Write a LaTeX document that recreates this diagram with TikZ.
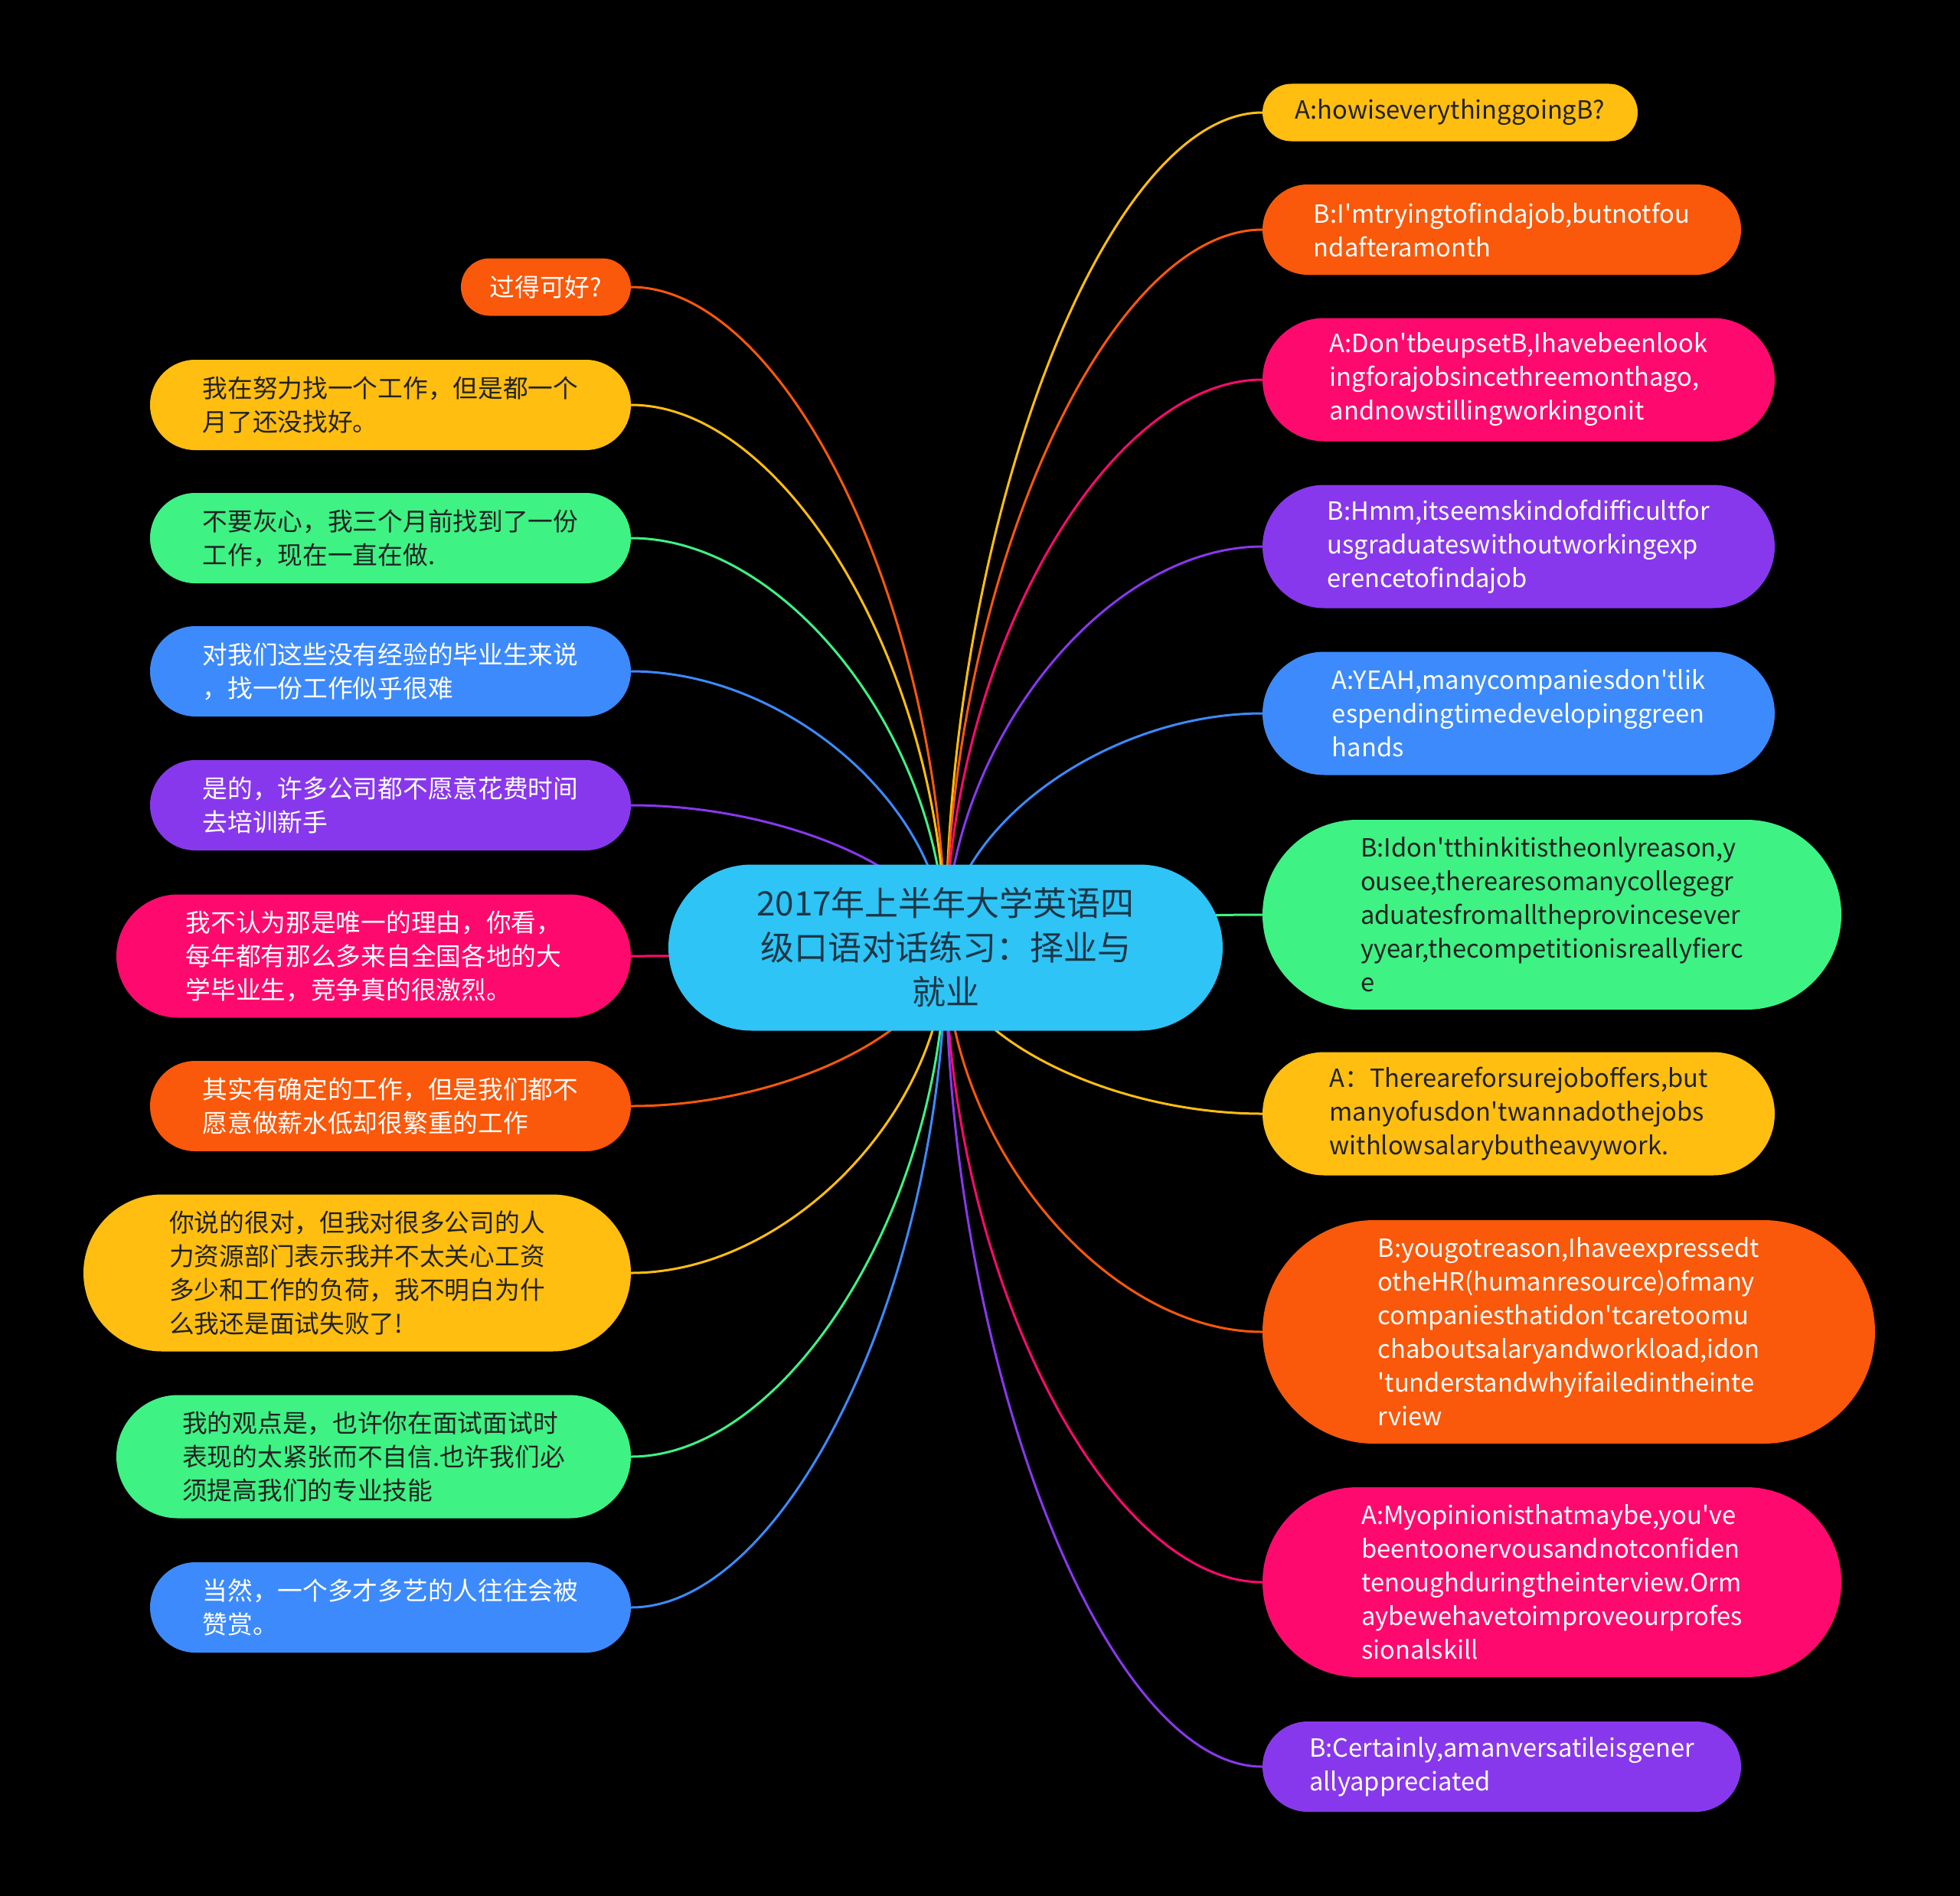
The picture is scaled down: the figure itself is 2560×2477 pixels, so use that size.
\documentclass[tikz,border=0pt]{standalone}
\usepackage{fontspec}
\setmainfont{Noto Sans CJK SC}
\usetikzlibrary{calc}
\definecolor{cY}{HTML}{FFBE10}
\definecolor{cO}{HTML}{FA580A}
\definecolor{cP}{HTML}{FE0A6E}
\definecolor{cV}{HTML}{8838EC}
\definecolor{cB}{HTML}{3D8AFC}
\definecolor{cG}{HTML}{3EF284}
\definecolor{cC}{HTML}{2EC4F6}
\definecolor{dk}{HTML}{222222}
\definecolor{ctxt}{HTML}{1C3646}
\pgfdeclarelayer{bg}\pgfdeclarelayer{lines}\pgfsetlayers{bg,lines,main}
\newcommand\aq{\textquotesingle}
\tikzset{
  pill/.style={inner sep=0pt, align=left, font=\fontsize{32.7bp}{44bp}\selectfont},
  conn/.style={line width=3bp},
  h1/.style={minimum height=75bp, rounded corners=37.5bp},
  h2/.style={minimum height=118bp, rounded corners=59bp},
  h3/.style={minimum height=161bp, rounded corners=80.5bp},
  h4/.style={minimum height=205bp, rounded corners=102.5bp},
  h5/.style={minimum height=248bp, rounded corners=124bp},
  h6/.style={minimum height=292bp, rounded corners=146bp},
  ylw/.style={fill=cY, text=dk},
  org/.style={fill=cO, text=white},
  pnk/.style={fill=cP, text=white},
  vio/.style={fill=cV, text=white},
  blu/.style={fill=cB, text=white},
  grn/.style={fill=cG, text=dk},
}
\newcommand\link[2]{\draw[conn,#1] (ctr.center) .. controls ($(ctr.center)!0.5!(ctr.center|-#2)$) and ($(#2-|ctr.center)!0.5!(#2)$) .. (#2);}
\begin{document}
\begin{tikzpicture}[x=1bp,y=-1bp]
\begin{pgfonlayer}{bg}
\fill[black] (0,0) rectangle (2560,2477);
\end{pgfonlayer}
\useasboundingbox (0,0) rectangle (2560,2477);

\node[fill=cC, text=ctxt, inner sep=0pt, align=center, minimum width=724bp, minimum height=217bp, rounded corners=108.5bp, font=\fontsize{44bp}{58bp}\selectfont] (ctr) at (1235,1238) {2017年上半年大学英语四\\级口语对话练习：择业与\\就业};

% right side
\node[pill,ylw,h1,minimum width=490bp] (R1) at (1894,147) {A:howiseverythinggoingB?};
\node[pill,org,h2,minimum width=625bp] (R2) at (1961.5,300) {B:I\aq mtryingtofindajob,butnotfou\\ndafteramonth};
\node[pill,pnk,h3,minimum width=669bp] (R3) at (1983.5,496) {A:Don\aq tbeupsetB,Ihavebeenlook\\ingforajobsincethreemonthago,\\andnowstillingworkingonit};
\node[pill,vio,h3,minimum width=669bp] (R4) at (1983.5,714) {B:Hmm,itseemskindofdifficultfor\\usgraduateswithoutworkingexp\\erencetofindajob};
\node[pill,blu,h3,minimum width=669bp] (R5) at (1983.5,932) {A:YEAH,manycompaniesdon\aq tlik\\espendingtimedevelopinggreen\\hands};
\node[pill,grn,h5,minimum width=756bp] (R6) at (2027,1195) {B:Idon\aq tthinkitistheonlyreason,y\\ousee,therearesomanycollegegr\\aduatesfromalltheprovincesever\\yyear,thecompetitionisreallyfierc\\e};
\node[pill,ylw,h3,minimum width=669bp] (R7) at (1983.5,1455) {A：Thereareforsurejoboffers,but\\manyofusdon\aq twannadothejobs\\withlowsalarybutheavywork.};
\node[pill,org,h6,minimum width=800bp] (R8) at (2049,1740) {B:yougotreason,Ihaveexpressedt\\otheHR(humanresource)ofmany\\companiesthatidon\aq tcaretoomu\\chaboutsalaryandworkload,idon\\\aq tunderstandwhyifailedintheinte\\rview};
\node[pill,pnk,h5,minimum width=756bp] (R9) at (2027,2067) {A:Myopinionisthatmaybe,you\aq ve\\beentoonervousandnotconfiden\\tenoughduringtheinterview.Orm\\aybewehavetoimproveourprofes\\sionalskill};
\node[pill,vio,h2,minimum width=625bp] (R10) at (1961.5,2308) {B:Certainly,amanversatileisgener\\allyappreciated};

% left side
\node[pill,org,h1,minimum width=222bp] (L1) at (713,375) {过得可好?};
\node[pill,ylw,h2,minimum width=628bp] (L2) at (510,529) {我在努力找一个工作，但是都一个\\月了还没找好。};
\node[pill,grn,h2,minimum width=628bp] (L3) at (510,703) {不要灰心，我三个月前找到了一份\\工作，现在一直在做.};
\node[pill,blu,h2,minimum width=628bp] (L4) at (510,877) {对我们这些没有经验的毕业生来说\\，找一份工作似乎很难};
\node[pill,vio,h2,minimum width=628bp] (L5) at (510,1052) {是的，许多公司都不愿意花费时间\\去培训新手};
\node[pill,pnk,h3,minimum width=672bp] (L6) at (488,1249) {我不认为那是唯一的理由，你看，\\每年都有那么多来自全国各地的大\\学毕业生，竞争真的很激烈。};
\node[pill,org,h2,minimum width=628bp] (L7) at (510,1445) {其实有确定的工作，但是我们都不\\愿意做薪水低却很繁重的工作};
\node[pill,ylw,h4,minimum width=715bp] (L8) at (466.5,1663) {你说的很对，但我对很多公司的人\\力资源部门表示我并不太关心工资\\多少和工作的负荷，我不明白为什\\么我还是面试失败了!};
\node[pill,grn,h3,minimum width=672bp] (L9) at (488,1903) {我的观点是，也许你在面试面试时\\表现的太紧张而不自信.也许我们必\\须提高我们的专业技能};
\node[pill,blu,h2,minimum width=628bp] (L10) at (510,2100) {当然，一个多才多艺的人往往会被\\赞赏。};

\begin{pgfonlayer}{lines}
\link{cY}{R1.west}
\link{cO}{R2.west}
\link{cP}{R3.west}
\link{cV}{R4.west}
\link{cB}{R5.west}
\link{cG}{R6.west}
\link{cY}{R7.west}
\link{cO}{R8.west}
\link{cP}{R9.west}
\link{cV}{R10.west}
\link{cO}{L1.east}
\link{cY}{L2.east}
\link{cG}{L3.east}
\link{cB}{L4.east}
\link{cV}{L5.east}
\link{cP}{L6.east}
\link{cO}{L7.east}
\link{cY}{L8.east}
\link{cG}{L9.east}
\link{cB}{L10.east}
\end{pgfonlayer}
\end{tikzpicture}
\end{document}
